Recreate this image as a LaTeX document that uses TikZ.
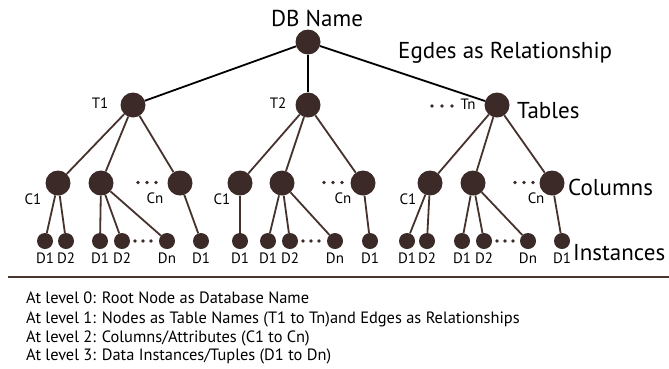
\documentclass[tikz,border=0pt]{standalone}
\usepackage{fontspec}
\setmainfont{PT Sans}
\begin{document}
\begin{tikzpicture}[x=1pt,y=-1pt,
  rootc/.style={circle,fill=nodebrown,inner sep=0pt,minimum size=25pt},
  colc/.style={circle,fill=nodebrown,inner sep=0pt,minimum size=25pt},
  leafc/.style={circle,fill=nodebrown,inner sep=0pt,minimum size=16pt},
  dotc/.style={circle,fill=nodebrown,inner sep=0pt,minimum size=3.6pt},
  rootedge/.style={draw=black,line width=1.8pt},
  edge/.style={draw=edgebrown,line width=1.8pt},
  biglab/.style={font=\fontsize{23}{26}\selectfont,inner sep=0pt},
  smalllab/.style={font=\fontsize{15}{18}\selectfont,inner sep=0pt},
  notes/.style={font=\fontsize{16.4}{18}\selectfont,inner sep=0pt,anchor=base west}]
\definecolor{nodebrown}{HTML}{3B2A27}
\definecolor{edgebrown}{HTML}{46322C}
\definecolor{rulebrown}{HTML}{4A3630}
\useasboundingbox (0,0) rectangle (669,368);

% level 0
\node[rootc] (r) at (308,42) {};
\node[biglab,anchor=base] (rl) at (317,26) {DB Name};
\node[biglab,anchor=base west] (el) at (398,58) {Egdes as Relationship};

% level 1
\node[colc] (t1) at (133,105) {};
\node[colc] (t2) at (308,105) {};
\node[colc] (t3) at (497,105) {};
\node[smalllab] (t1l) at (100,103) {T1};
\node[smalllab] (t2l) at (278,103) {T2};
\node[smalllab] (t3l) at (468,104) {Tn};
\node[dotc] (t3d1) at (432,106) {};
\node[dotc] (t3d2) at (442,106) {};
\node[dotc] (t3d3) at (452,106) {};
\node[biglab,anchor=base west] (tl) at (517,118) {Tables};

% level 2
\foreach \n/\x in {c11/58,c12/101,c13/180,c21/240,c22/282,c23/363,c31/430,c32/473,c33/552}
  \node[colc] (\n) at (\x,183) {};
\foreach \n/\x in {c11l/33,c21l/222,c31l/408}
  \node[smalllab] (\n) at (\x,199) {C1};
\foreach \n/\x in {c13l/155,c23l/343,c33l/536}
  \node[smalllab] (\n) at (\x,198) {Cn};
\foreach \n/\x in {a/138,b/147,c/156,d/324,e/333,f/342,g/515,h/524,i/533}
  \node[dotc] (cd\n) at (\x,182.5) {};
\node[biglab,anchor=base west] (cl) at (568,195) {Columns};

% level 3
\foreach \n/\x/\t in {d111/45/D1,d112/66/D2,d121/100/D1,d122/122/D2,d123/167/Dn,d131/201/D1,
  d211/240/D1,d221/268/D1,d222/290/D2,d223/335/Dn,d231/370/D1,
  d311/407/D1,d312/427/D2,d321/462/D1,d322/484/D2,d323/528/Dn,d331/562/D1}{
  \node[leafc] (\n) at (\x,241) {};
  \node[smalllab] (\n l) at (\x,258) {\t};
}
\foreach \n/\x in {a/135,b/143,c/151,d/303,e/311,f/319,g/497,h/505,i/513}
  \node[dotc] (dd\n) at (\x,241) {};
\node[biglab,anchor=base west] (il) at (573,260) {Instances};

% edges
\draw[rootedge] (r) -- (t1);
\draw[rootedge] (r) -- (t2);
\draw[rootedge] (r) -- (t3);
\foreach \a/\b in {t1/c11,t1/c12,t1/c13,t2/c21,t2/c22,t2/c23,t3/c31,t3/c32,t3/c33,
  c11/d111,c11/d112,c12/d121,c12/d122,c12/d123,c13/d131,
  c21/d211,c22/d221,c22/d222,c22/d223,c23/d231,
  c31/d311,c31/d312,c32/d321,c32/d322,c32/d323,c33/d331}
  \draw[edge] (\a) -- (\b);

% rule
\coordinate (ra) at (8,277);
\coordinate (rb) at (669,277);
\draw[draw=rulebrown,line width=2.2pt] (ra) -- (rb);

% notes
\node[notes] (n0) at (26,303) {At level 0: Root Node as Database Name};
\node[notes] (n1) at (26,323) {At level 1: Nodes as Table Names (T1 to Tn)and Edges as Relationships};
\node[notes] (n2) at (26,342) {At level 2: Columns/Attributes (C1 to Cn)};
\node[notes] (n3) at (26,360) {At level 3: Data Instances/Tuples (D1 to Dn)};
\end{tikzpicture}
\end{document}
